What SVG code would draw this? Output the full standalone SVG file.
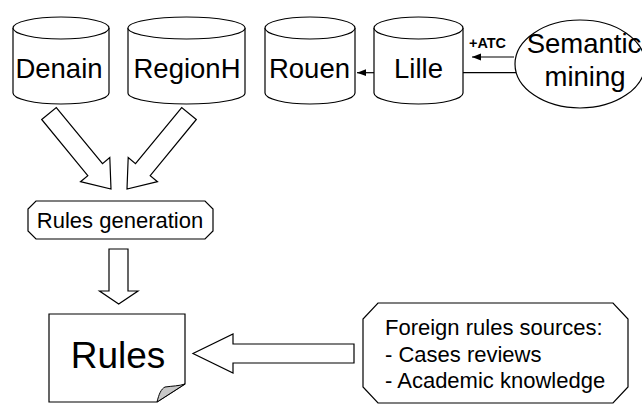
<svg xmlns="http://www.w3.org/2000/svg" width="642" height="406" viewBox="0 0 642 406">
<defs>
<style>
.s{fill:#fff;stroke:#000;stroke-width:1.2}
.t{font-family:"Liberation Sans",Arial,sans-serif;fill:#000}
.big{font-size:27.5px;text-anchor:middle}
.ln{fill:none;stroke:#000;stroke-width:1.2}
</style>
<marker id="ah" markerWidth="10" markerHeight="8" refX="9" refY="4" orient="auto" markerUnits="userSpaceOnUse">
<path d="M0,0.6 L9,4 L0,7.4 Z" fill="#000"/>
</marker>
</defs>
<rect width="642" height="406" fill="#fff"/>

<g id="connectors">
<line class="ln" x1="374" y1="72.7" x2="357" y2="72.7" marker-end="url(#ah)"/>
<line class="ln" x1="514" y1="57" x2="472" y2="57" marker-end="url(#ah)"/>
<line class="ln" x1="463" y1="72.7" x2="516.5" y2="72.7"/>
<text class="t" x="469" y="47.5" font-size="15.5" font-weight="bold" textLength="37" lengthAdjust="spacingAndGlyphs">+ATC</text>
<polygon class="s" points="41.7,119.5 56.3,107.5 102.5,163.7 109.8,157.6 111,189 80.5,181.7 87.8,175.7"/>
<polygon class="s" points="196.3,119.5 181.7,107.5 135.5,163.7 128.2,157.6 127,189 157.5,181.7 150.2,175.7"/>
<polygon class="s" points="109,249 128,249 128,291 138,291 118.7,304 99.5,291 109,291"/>
<polygon class="s" points="354,344 233,344 233,334 193,353.5 233,373 233,363 354,363"/>
</g>

<g id="denain">
<path class="s" d="M13,28 V93 A48,11 0 0 0 109,93 V28"/>
<ellipse class="s" cx="61" cy="28" rx="48" ry="11"/>
<text class="t big" x="59" y="78">Denain</text>
</g>
<g id="regionh">
<path class="s" d="M128,28 V93 A58.5,11 0 0 0 245,93 V28"/>
<ellipse class="s" cx="186.5" cy="28" rx="58.5" ry="11"/>
<text class="t big" x="187" y="78">RegionH</text>
</g>
<g id="rouen">
<path class="s" d="M265,28 V93 A45,11 0 0 0 355,93 V28"/>
<ellipse class="s" cx="310" cy="28" rx="45" ry="11"/>
<text class="t big" x="309.5" y="78">Rouen</text>
</g>
<g id="lille">
<path class="s" d="M374,28 V93 A44.5,11 0 0 0 463,93 V28"/>
<ellipse class="s" cx="418.5" cy="28" rx="44.5" ry="11"/>
<text class="t big" x="418.5" y="78">Lille</text>
</g>
<g id="semantic">
<ellipse class="s" cx="580" cy="64" rx="65" ry="44"/>
<text class="t big" x="584" y="53">Semantic</text>
<text class="t big" x="585" y="86">mining</text>
</g>
<g id="rulesgen">
<path class="s" d="M36,201 H205 L213,209 V231 L205,239 H36 L28,231 V209 Z"/>
<text class="t" x="120" y="228" font-size="22" text-anchor="middle">Rules generation</text>
</g>
<g id="rules">
<path class="s" d="M49,314 H185 V384 L157,402 H49 Z"/>
<path d="M157,402 C159,394 161,389 165,387 C172,386 179,386 185,384 Z" fill="#c8c8c8" stroke="#000" stroke-width="1"/>
<text class="t" x="118" y="368" font-size="37" text-anchor="middle">Rules</text>
</g>
<g id="foreign">
<path class="s" d="M378,303 H613 L628,319 V387 L613,403 H378 L363,387 V319 Z"/>
<text class="t" font-size="22" x="385" y="335">Foreign rules sources:</text>
<text class="t" font-size="22" x="385" y="362">- Cases reviews</text>
<text class="t" font-size="22" x="385" y="388">- Academic knowledge</text>
</g>
</svg>
